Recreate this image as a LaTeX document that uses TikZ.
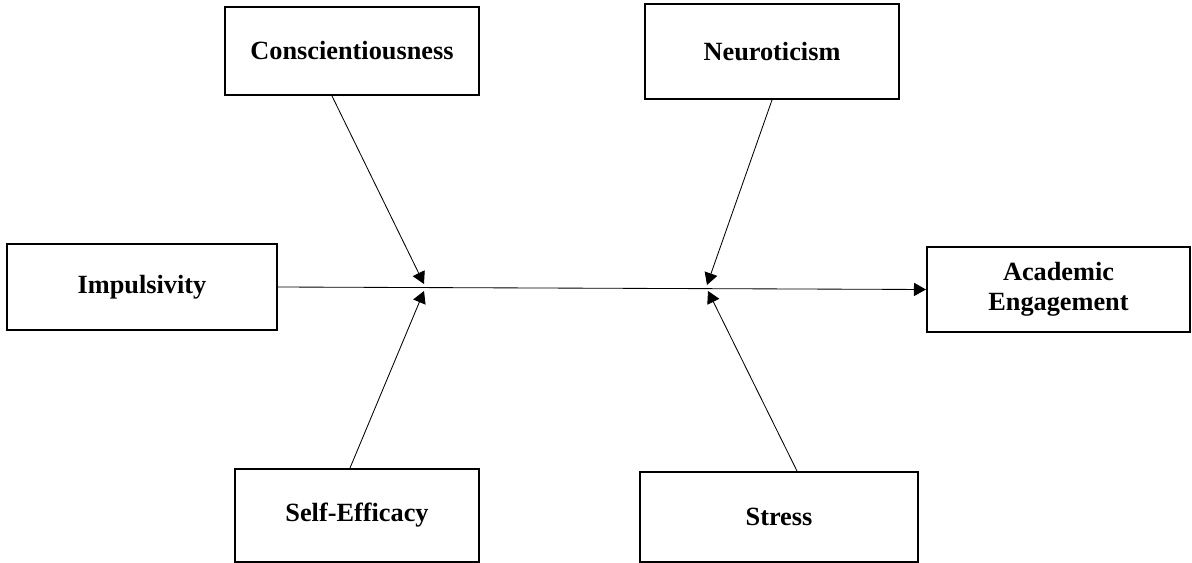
\documentclass[tikz,border=0pt]{standalone}
\usepackage{fontspec}
\setmainfont{Liberation Serif}
\usetikzlibrary{arrows.meta}

\begin{document}
\begin{tikzpicture}[x=0.025cm, y=-0.025cm,
	factor/.style={shape=rectangle, draw=black, line width=1.4pt, inner sep=0pt, align=center,
		font=\fontsize{18.7}{21.5}\selectfont\bfseries},
	link/.style={-{Triangle[length=0.3cm, width=0.33cm]}, line width=0.6pt}]
	
	\useasboundingbox (0, 0) rectangle (1192, 563);
	
	\node[factor, minimum width=6.35cm, minimum height=2.2cm]   (consc)   at (352, 51)      {Conscientiousness};
	\node[factor, minimum width=6.35cm, minimum height=2.375cm] (neuro)   at (772, 51.5)    {Neuroticism};
	\node[factor, minimum width=6.75cm, minimum height=2.15cm]  (impuls)  at (142, 287)     {Impulsivity};
	\node[factor, minimum width=6.575cm, minimum height=2.125cm] (engage) at (1058.5, 289.5) {Academic\\Engagement};
	\node[factor, minimum width=6.1cm, minimum height=2.325cm]  (selfeff) at (357, 515.5)   {Self-Efficacy};
	\node[factor, minimum width=6.95cm, minimum height=2.25cm]  (stress)  at (779, 517)     {Stress};
	
	\coordinate (cend) at (424, 284);
	\coordinate (send) at (424, 291);
	\coordinate (nend) at (707, 285);
	\coordinate (tend) at (708, 291);
	
	\path[link] (impuls.east) edge (engage.west);
	\path[link] ([xshift=-0.5cm]consc.south) edge (cend);
	\path[link] ([xshift=-0.175cm]selfeff.north) edge (send);
	\path[link] (neuro.south) edge (nend);
	\path[link] ([xshift=0.45cm]stress.north) edge (tend);
	
\end{tikzpicture}
\end{document}
